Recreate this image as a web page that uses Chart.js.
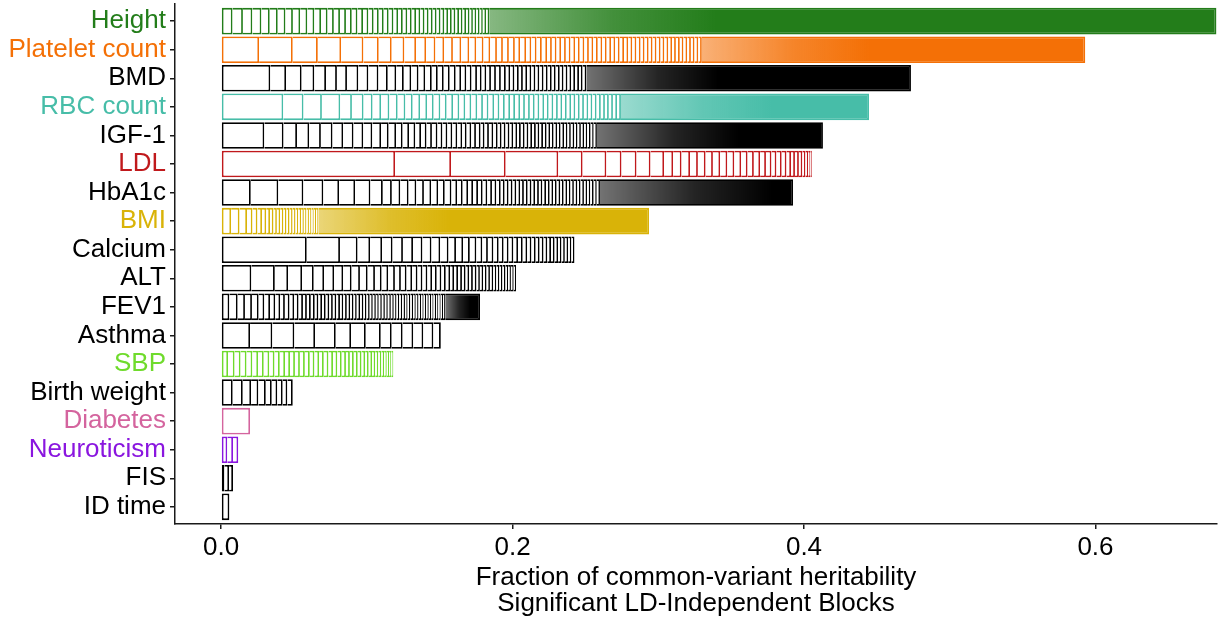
<!DOCTYPE html>
<html>
<head>
<meta charset="utf-8">
<script src="https://cdn.jsdelivr.net/npm/chart.js@4/dist/chart.umd.min.js"></script>
<style>
  html, body { margin: 0; padding: 0; background: #ffffff; }
  #wrap { width: 1227px; height: 621px; position: relative; }
</style>
</head>
<body>
<div id="wrap"><canvas id="chart"></canvas></div>
<script>
// Traits, top to bottom
const traits = ['Height', 'Platelet count', 'BMD', 'RBC count', 'IGF-1', 'LDL', 'HbA1c', 'BMI',
  'Calcium', 'ALT', 'FEV1', 'Asthma', 'SBP', 'Birth weight', 'Diabetes', 'Neuroticism', 'FIS', 'ID time'];

const traitColors = ['#237D1A', '#F47006', '#000000', '#47BDA8', '#000000', '#C0191C', '#000000', '#D9B308',
  '#000000', '#000000', '#000000', '#000000', '#6FDB2C', '#000000', '#D4649E', '#8A16DF', '#000000', '#000000'];

// Share of heritability carried by each resolvable LD block, largest first
const blocksHeight = [0.0079, 0.0071, 0.0065, 0.0062, 0.0057, 0.0055, 0.0053, 0.0051, 0.0050, 0.0049,
  0.0048, 0.0046, 0.0045, 0.0043, 0.0042, 0.0041, 0.0040, 0.0039, 0.0038, 0.0037,
  0.0036, 0.0035, 0.0034, 0.0034, 0.0033, 0.0032, 0.0032, 0.0031, 0.0030, 0.0030,
  0.0029, 0.0029, 0.0028, 0.0028, 0.0027, 0.0027, 0.0026, 0.0026, 0.0025, 0.0025,
  0.0025, 0.0024, 0.0024, 0.0024, 0.0023, 0.0023, 0.0023, 0.0022, 0.0022, 0.0022];
const blocksPlatelet = [0.0261, 0.0231, 0.0172, 0.0160, 0.0153, 0.0105, 0.0089, 0.0087, 0.0080, 0.0069,
  0.0064, 0.0060, 0.0060, 0.0057, 0.0055, 0.0048, 0.0050, 0.0046, 0.0046, 0.0041,
  0.0041, 0.0041, 0.0036, 0.0041, 0.0036, 0.0036, 0.0036, 0.0036,
  0.0033, 0.0032, 0.0031, 0.0033, 0.0032, 0.0032, 0.0031, 0.0032,
  0.0031, 0.0030, 0.0031, 0.0031, 0.0030, 0.0030, 0.0029, 0.0030, 0.0030, 0.0029,
  0.0028, 0.0028, 0.0029, 0.0027, 0.0028, 0.0027, 0.0027, 0.0028, 0.0026, 0.0027,
  0.0026, 0.0026, 0.0027, 0.0025, 0.0026, 0.0025, 0.0025, 0.0026, 0.0024];
const blocksBMD = [0.0338, 0.0108, 0.0107, 0.0087, 0.0080, 0.0075, 0.0069, 0.0078, 0.0069, 0.0069,
  0.0064, 0.0058, 0.0052, 0.0051, 0.0050, 0.0046, 0.0045, 0.0041, 0.0041, 0.0041,
  0.0041, 0.0037, 0.0036, 0.0036, 0.0037, 0.0032, 0.0032, 0.0032, 0.0034, 0.0034,
  0.0034, 0.0030, 0.0029, 0.0030, 0.0028, 0.0029, 0.0029, 0.0028, 0.0027, 0.0029,
  0.0028, 0.0028, 0.0027, 0.0028, 0.0026, 0.0027, 0.0026, 0.0026, 0.0027, 0.0025, 0.0026];
const blocksRBC = [0.0427, 0.0139, 0.0126, 0.0126, 0.0080, 0.0080, 0.0062, 0.0058, 0.0057, 0.0057,
  0.0053, 0.0050, 0.0051, 0.0048, 0.0045, 0.0046, 0.0043, 0.0044, 0.0043, 0.0041,
  0.0041, 0.0041, 0.0039, 0.0038, 0.0039, 0.0036, 0.0037, 0.0036,
  0.0034, 0.0035, 0.0033, 0.0034, 0.0033, 0.0032, 0.0033, 0.0031, 0.0032, 0.0031,
  0.0030, 0.0031, 0.0030, 0.0029, 0.0030, 0.0029, 0.0030, 0.0028, 0.0029, 0.0029,
  0.0028, 0.0027, 0.0028, 0.0028, 0.0027];
const blocksIGF1 = [0.0297, 0.0132, 0.0092, 0.0084, 0.0080, 0.0080, 0.0073, 0.0071, 0.0067, 0.0062,
  0.0060, 0.0052, 0.0051, 0.0045, 0.0044, 0.0043, 0.0039, 0.0038, 0.0037, 0.0038,
  0.0034, 0.0034, 0.0034, 0.0034, 0.0034, 0.0030, 0.0032, 0.0032, 0.0032, 0.0027,
  0.0030, 0.0030, 0.0030, 0.0027, 0.0027, 0.0027,
  0.0026, 0.0027, 0.0025, 0.0026, 0.0026, 0.0025, 0.0026, 0.0024, 0.0025, 0.0025,
  0.0024, 0.0024, 0.0025, 0.0023, 0.0024, 0.0023, 0.0023, 0.0024, 0.0022, 0.0023,
  0.0022, 0.0022, 0.0023, 0.0021, 0.0022];
const blocksLDL = [0.1194, 0.0384, 0.0375, 0.0361, 0.0167, 0.0163, 0.0104, 0.0103, 0.0096, 0.0093,
  0.0062, 0.0058, 0.0058, 0.0054, 0.0053, 0.0050, 0.0050, 0.0049, 0.0048, 0.0047,
  0.0044, 0.0043, 0.0043, 0.0040, 0.0038, 0.0034, 0.0036, 0.0033, 0.0031, 0.0027,
  0.0027, 0.0024, 0.0021, 0.0019, 0.0015, 0.0010];
const blocksHbA1c = [0.0204, 0.0189, 0.0172, 0.0137, 0.0108, 0.0110, 0.0105, 0.0085, 0.0062, 0.0058,
  0.0057, 0.0053, 0.0052, 0.0050, 0.0048, 0.0045, 0.0046, 0.0039, 0.0038, 0.0037,
  0.0034, 0.0034, 0.0032, 0.0032, 0.0032, 0.0030, 0.0030, 0.0027, 0.0027, 0.0027,
  0.0026, 0.0027, 0.0025, 0.0026, 0.0026, 0.0025, 0.0026, 0.0024, 0.0025, 0.0025,
  0.0024, 0.0024, 0.0025, 0.0023, 0.0024, 0.0023, 0.0023, 0.0024, 0.0022, 0.0023,
  0.0022, 0.0022, 0.0023, 0.0021, 0.0022];
const blocksBMI = [0.0069, 0.0058, 0.0051, 0.0038, 0.0034, 0.0031, 0.0029, 0.0026, 0.0024, 0.0023,
  0.0023, 0.0022, 0.0021, 0.0021, 0.0021, 0.0020, 0.0019, 0.0019, 0.0019, 0.0018,
  0.0017, 0.0017, 0.0016, 0.0016, 0.0016];
const blocksCalcium = [0.0588, 0.0228, 0.0121, 0.0086, 0.0082, 0.0072, 0.0071, 0.0069, 0.0065, 0.0062,
  0.0060, 0.0057, 0.0051, 0.0049, 0.0046, 0.0045, 0.0041, 0.0038, 0.0038, 0.0036,
  0.0034, 0.0034, 0.0033, 0.0032, 0.0032, 0.0031, 0.0029, 0.0029, 0.0027, 0.0027,
  0.0026, 0.0025, 0.0025, 0.0024, 0.0023, 0.0023, 0.0023, 0.0022, 0.0021];
const blocksALT = [0.0208, 0.0161, 0.0091, 0.0096, 0.0080, 0.0071, 0.0069, 0.0062, 0.0058, 0.0057,
  0.0053, 0.0050, 0.0046, 0.0045, 0.0046, 0.0041, 0.0039, 0.0038, 0.0037, 0.0034,
  0.0034, 0.0032, 0.0032, 0.0032, 0.0030, 0.0030, 0.0027, 0.0027, 0.0027, 0.0025,
  0.0025, 0.0025, 0.0025, 0.0023, 0.0023, 0.0023, 0.0023, 0.0023, 0.0021, 0.0021,
  0.0021, 0.0021, 0.0018, 0.0019, 0.0019, 0.0016];
const blocksFEV1 = [0.0057, 0.0057, 0.0050, 0.0048, 0.0046, 0.0039, 0.0039, 0.0036, 0.0034, 0.0032,
  0.0032, 0.0032, 0.0030, 0.0030, 0.0027, 0.0027, 0.0027, 0.0025, 0.0025, 0.0025,
  0.0025, 0.0024, 0.0024, 0.0025, 0.0023, 0.0024, 0.0023, 0.0023, 0.0022, 0.0023,
  0.0023, 0.0021, 0.0022, 0.0021, 0.0021, 0.0020, 0.0021, 0.0021, 0.0020, 0.0021,
  0.0020, 0.0019, 0.0019, 0.0020, 0.0019, 0.0018, 0.0019, 0.0019, 0.0018, 0.0019,
  0.0018, 0.0017, 0.0017, 0.0018, 0.0017, 0.0016, 0.0017, 0.0016, 0.0016, 0.0016, 0.0015];
const blocksAsthma = [0.0199, 0.0153, 0.0151, 0.0142, 0.0142, 0.0105, 0.0101, 0.0103, 0.0075, 0.0075,
  0.0073, 0.0069, 0.0069, 0.0051];
const blocksSBP = [0.0048, 0.0045, 0.0041, 0.0041, 0.0040, 0.0039, 0.0039, 0.0038, 0.0036, 0.0036,
  0.0036, 0.0034, 0.0034, 0.0034, 0.0034, 0.0034, 0.0032, 0.0032, 0.0032, 0.0032,
  0.0031, 0.0030, 0.0030, 0.0029, 0.0027, 0.0027, 0.0027, 0.0026, 0.0025, 0.0024,
  0.0023, 0.0022, 0.0021, 0.0021, 0.0019, 0.0018, 0.0016, 0.0015, 0.0014];
const blocksBirthWeight = [0.0080, 0.0069, 0.0057, 0.0050, 0.0051, 0.0041, 0.0038, 0.0037, 0.0032, 0.0037];
const blocksDiabetes = [0.0199];
const blocksNeuroticism = [0.0043, 0.0039, 0.0036];
const blocksFIS = [0.0023, 0.0032, 0.0027];
const blocksIDTime = [0.0057];

// Total fraction of common-variant heritability in significant blocks
const totals = [0.683, 0.593, 0.4734, 0.4446, 0.413, 0.4054, 0.3925, 0.2937,
  0.2425, 0.2024, 0.1777, 0.1508, 0.1182, 0.0492, 0.0199, 0.0118, 0.0082, 0.0057];

// Cumulative share beyond which the remaining tiny blocks merge into solid colour
const solidFrom = [0.34, 0.445, 0.341, 0.378, 0.355, null, 0.378, 0.157,
  null, null, 0.171, null, null, null, null, null, null, null];

const xTickValues = [0, 0.2, 0.4, 0.6];
const xTickLabels = ['0.0', '0.2', '0.4', '0.6'];
const xTitleLines = ['Fraction of common-variant heritability', 'Significant LD-Independent Blocks'];

const blockSets = [blocksHeight, blocksPlatelet, blocksBMD, blocksRBC, blocksIGF1, blocksLDL, blocksHbA1c,
  blocksBMI, blocksCalcium, blocksALT, blocksFEV1, blocksAsthma, blocksSBP, blocksBirthWeight,
  blocksDiabetes, blocksNeuroticism, blocksFIS, blocksIDTime];

// Floating bar rows: one per block, plus one for the unresolved remainder of each trait
const blockRows = [];
const tailRows = [];
traits.forEach((name, i) => {
  let start = 0;
  blockSets[i].forEach((w, j) => {
    blockRows.push({ x: [start, start + w], y: i + 1, t: i, first: j === 0 });
    start += w;
  });
  if (totals[i] - start > 0.001) {
    tailRows.push({ x: [start, totals[i]], y: i + 1, t: i, solid: solidFrom[i] ?? totals[i] });
  }
});

function rgba(hex, a) {
  const n = parseInt(hex.slice(1), 16);
  return `rgba(${(n >> 16) & 255},${(n >> 8) & 255},${n & 255},${a})`;
}

const FONT = '"Liberation Sans", Arial, Helvetica, sans-serif';
Chart.defaults.font.family = FONT;

const axisGrid = { display: true, offset: false, drawOnChartArea: false, drawTicks: true, tickLength: 5, color: '#1a1a1a', lineWidth: 1.5 };
const axisBorder = { display: true, color: '#1a1a1a', width: 1.5 };

new Chart(document.getElementById('chart'), {
  type: 'bar',
  data: {
    datasets: [
      {
        data: blockRows,
        backgroundColor: '#ffffff',
        borderColor: ctx => (ctx.raw ? traitColors[ctx.raw.t] : '#000000'),
        borderWidth: 1.8,
        borderSkipped: ctx => (ctx.raw && ctx.raw.first ? false : 'start'),
        barPercentage: 0.93,
        categoryPercentage: 1,
        grouped: false
      },
      {
        data: tailRows,
        backgroundColor: ctx => {
          const r = ctx.raw;
          if (!r) return '#000000';
          const chart = ctx.chart;
          const xs = chart.scales.x;
          const col = traitColors[r.t];
          if (!xs || !chart.chartArea) return col;
          const x0 = xs.getPixelForValue(r.x[0]);
          const x1 = Math.max(xs.getPixelForValue(r.solid), x0 + 1);
          const g = chart.ctx.createLinearGradient(x0, 0, x1, 0);
          g.addColorStop(0, rgba(col, 0.55));
          g.addColorStop(0.55, rgba(col, 0.86));
          g.addColorStop(1, rgba(col, 1));
          return g;
        },
        borderColor: ctx => (ctx.raw ? traitColors[ctx.raw.t] : '#000000'),
        borderWidth: 1.8,
        borderSkipped: 'start',
        barPercentage: 0.93,
        categoryPercentage: 1,
        grouped: false
      }
    ]
  },
  options: {
    indexAxis: 'y',
    responsive: true,
    maintainAspectRatio: false,
    animation: false,
    events: [],
    layout: { autoPadding: false, padding: { top: 4, right: 10, left: 0, bottom: 0 } },
    plugins: { legend: { display: false }, tooltip: { enabled: false } },
    scales: {
      x: {
        type: 'linear',
        offset: false,
        min: -0.0316,
        max: 0.6834,
        afterBuildTicks: s => { s.ticks = xTickValues.map(v => ({ value: v })); },
        afterFit: s => { s.height = 97; s.paddingLeft = 0; s.paddingRight = 0; },
        ticks: {
          padding: 3,
          color: '#000000',
          font: { size: 26 },
          callback: (v, i) => xTickLabels[i]
        },
        grid: axisGrid,
        border: axisBorder,
        title: {
          display: true,
          text: xTitleLines,
          color: '#000000',
          font: { size: 26, lineHeight: 1.0 },
          padding: { top: 0, bottom: 4 }
        }
      },
      y: {
        type: 'linear',
        offset: false,
        reverse: true,
        min: 0.4,
        max: 18.6,
        afterBuildTicks: s => { s.ticks = traits.map((_, i) => ({ value: i + 1 })); },
        afterFit: s => { s.width = 175; s.paddingTop = 0; s.paddingBottom = 0; },
        ticks: {
          autoSkip: false,
          padding: 4,
          font: { size: 26 },
          color: ctx => traitColors[ctx.index] || '#000000',
          callback: v => traits[Math.round(v) - 1]
        },
        grid: axisGrid,
        border: axisBorder
      }
    }
  }
});
</script>
</body>
</html>
